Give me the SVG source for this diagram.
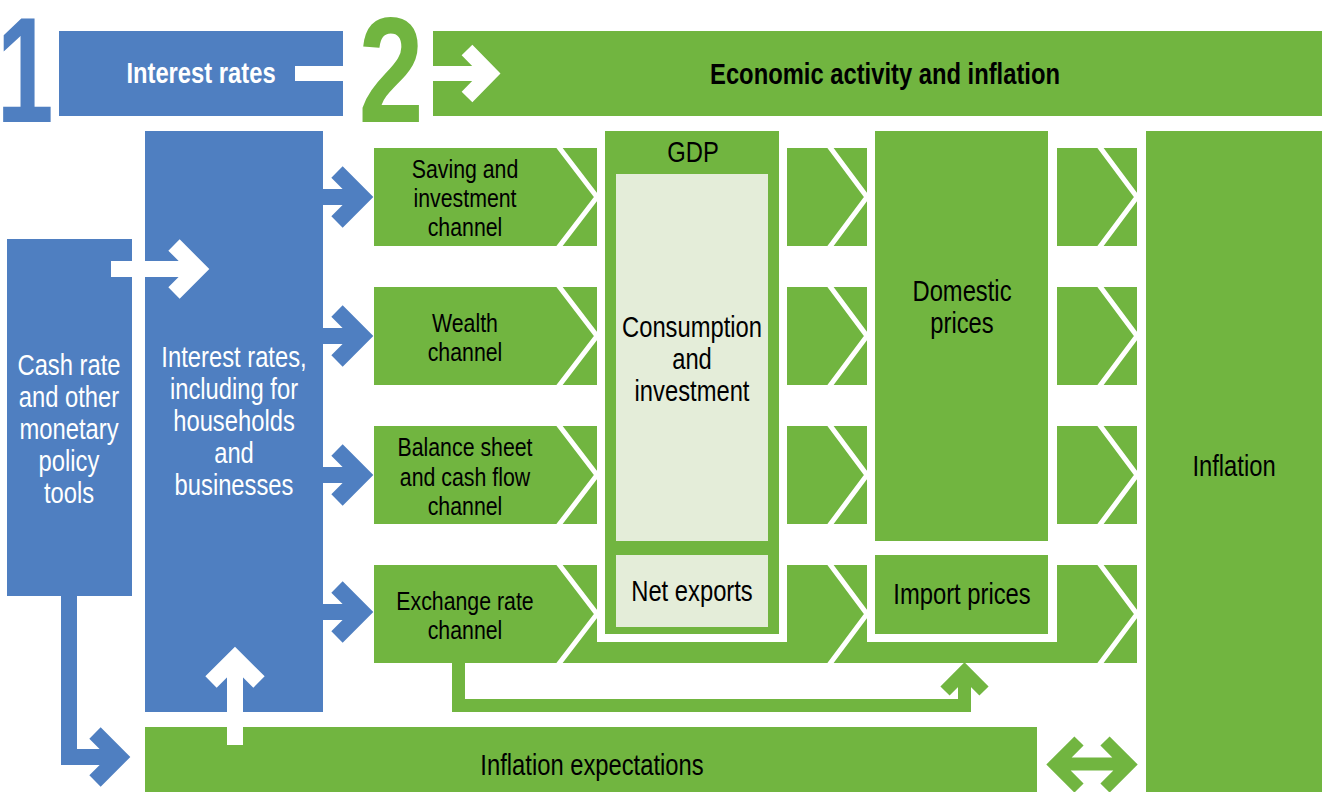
<svg xmlns="http://www.w3.org/2000/svg" width="1325" height="792" viewBox="0 0 1325 792">
<style>
.b{fill:#4F7FC1}
.g{fill:#71B540}
.l{fill:#E4EDD9}
.w{fill:#FFFFFF}
.t{font-family:'Liberation Sans',Arial,sans-serif;font-size:29px;text-anchor:middle}
.c{font-size:26px}
.tw{fill:#FFFFFF}
.tk{fill:#000000}
.bold{font-weight:bold}
.num{font-family:'Liberation Sans',Arial,sans-serif;font-weight:bold;font-size:150px;text-anchor:middle}
.chv{fill:none;stroke:#FFFFFF;stroke-width:5}
.arw{fill:none;stroke-linejoin:miter;stroke-linecap:butt}
</style>
<rect width="1325" height="792" fill="#FFFFFF"/>

<g id="header1">
  <text class="num" transform="translate(25 0) scale(0.68 1)" x="0" y="122" fill="#4F7FC1">1</text>
  <rect class="b" x="59" y="31" width="284" height="85"/>
  <rect class="w" x="295" y="66" width="48" height="15"/>
  <text class="t tw bold" transform="translate(201 0) scale(0.82 1)" x="0" y="83" font-size="28">Interest rates</text>
</g>
<g id="header2">
  <text class="num" transform="translate(391 0) scale(0.78 1)" x="0" y="122" fill="#71B540">2</text>
  <rect class="g" x="433" y="31" width="889" height="85"/>
  <text class="t tk bold" transform="translate(885 0) scale(0.82 1)" x="0" y="84">Economic activity and inflation</text>
</g>

<g id="cash">
  <rect class="b" x="7" y="239" width="125" height="357"/>
  <text class="t tw" transform="translate(69 0) scale(0.82 1)"><tspan x="0" y="375">Cash rate</tspan><tspan x="0" y="407">and other</tspan><tspan x="0" y="439">monetary</tspan><tspan x="0" y="471">policy</tspan><tspan x="0" y="503">tools</tspan></text>
</g>

<g id="interest">
  <rect class="b" x="145" y="131" width="178" height="581"/>
  <text class="t tw" transform="translate(234 0) scale(0.82 1)"><tspan x="0" y="367">Interest rates,</tspan><tspan x="0" y="399">including for</tspan><tspan x="0" y="431">households</tspan><tspan x="0" y="463">and</tspan><tspan x="0" y="495">businesses</tspan></text>
</g>

<g id="saving">
  <rect class="g" x="374" y="148" width="223" height="98"/>
  <polyline class="chv" points="558,146 597,197 558,248"/>
  <text class="t c tk" transform="translate(465 0) scale(0.82 1)"><tspan x="0" y="178">Saving and</tspan><tspan x="0" y="207">investment</tspan><tspan x="0" y="236">channel</tspan></text>
</g>
<g id="wealth">
  <rect class="g" x="374" y="287" width="223" height="98"/>
  <polyline class="chv" points="558,285 597,336 558,387"/>
  <text class="t c tk" transform="translate(465 0) scale(0.82 1)"><tspan x="0" y="332">Wealth</tspan><tspan x="0" y="361">channel</tspan></text>
</g>
<g id="balance">
  <rect class="g" x="374" y="426" width="223" height="98"/>
  <polyline class="chv" points="558,424 597,475 558,526"/>
  <text class="t c tk" transform="translate(465 0) scale(0.82 1)"><tspan x="0" y="456">Balance sheet</tspan><tspan x="0" y="486">and cash flow</tspan><tspan x="0" y="515">channel</tspan></text>
</g>

<g id="exchange">
  <rect class="g" x="374" y="565" width="763" height="98"/>
  <polyline class="chv" points="558,563 597,614 558,665"/>
  <polyline class="chv" points="829,563 867,614 829,665"/>
  <polyline class="chv" points="1099,563 1137,614 1099,665"/>
  <text class="t c tk" transform="translate(465 0) scale(0.82 1)"><tspan x="0" y="610">Exchange rate</tspan><tspan x="0" y="639">channel</tspan></text>
</g>

<g id="gdp">
  <rect class="w" x="597" y="565" width="190" height="77"/>
  <rect class="g" x="605" y="131" width="174" height="503"/>
  <rect class="l" x="616" y="174" width="152" height="367"/>
  <text class="t tk" transform="translate(693 0) scale(0.82 1)" x="0" y="162">GDP</text>
  <text class="t tk" transform="translate(692 0) scale(0.82 1)"><tspan x="0" y="337">Consumption</tspan><tspan x="0" y="369">and</tspan><tspan x="0" y="401">investment</tspan></text>
</g>
<g id="netexports">
  <rect class="l" x="616" y="555" width="152" height="72"/>
  <text class="t tk" transform="translate(692 0) scale(0.82 1)" x="0" y="601">Net exports</text>
</g>

<g id="mid1">
  <rect class="g" x="787" y="148" width="80" height="98"/>
  <polyline class="chv" points="829,146 867,197 829,248"/>
</g>
<g id="mid2">
  <rect class="g" x="787" y="287" width="80" height="98"/>
  <polyline class="chv" points="829,285 867,336 829,387"/>
</g>
<g id="mid3">
  <rect class="g" x="787" y="426" width="80" height="98"/>
  <polyline class="chv" points="829,424 867,475 829,526"/>
</g>

<g id="domestic">
  <rect class="g" x="875" y="131" width="173" height="410"/>
  <text class="t tk" transform="translate(962 0) scale(0.82 1)"><tspan x="0" y="301">Domestic</tspan><tspan x="0" y="333">prices</tspan></text>
</g>
<g id="import">
  <rect class="w" x="867" y="565" width="190" height="77"/>
  <rect class="g" x="875" y="555" width="173" height="79"/>
  <text class="t tk" transform="translate(962 0) scale(0.82 1)" x="0" y="604">Import prices</text>
</g>

<g id="right1">
  <rect class="g" x="1057" y="148" width="80" height="98"/>
  <polyline class="chv" points="1099,146 1137,197 1099,248"/>
</g>
<g id="right2">
  <rect class="g" x="1057" y="287" width="80" height="98"/>
  <polyline class="chv" points="1099,285 1137,336 1099,387"/>
</g>
<g id="right3">
  <rect class="g" x="1057" y="426" width="80" height="98"/>
  <polyline class="chv" points="1099,424 1137,475 1099,526"/>
</g>

<g id="inflation">
  <rect class="g" x="1146" y="131" width="176" height="661"/>
  <text class="t tk" transform="translate(1234 0) scale(0.82 1)" x="0" y="476">Inflation</text>
</g>

<g id="expectations">
  <rect class="g" x="145" y="727" width="892" height="65"/>
  <text class="t tk" transform="translate(592 0) scale(0.82 1)" x="0" y="775">Inflation expectations</text>
</g>

<g id="connectors">
  <path class="arw" stroke="#FFFFFF" stroke-width="15" d="M433 73.5 H486 M467 50 L490 73.5 L467 97"/>
  <path class="arw" stroke="#FFFFFF" stroke-width="16" d="M111 269 H194 M174 245 L198 269 L174 293"/>
  <path class="arw" stroke="#4F7FC1" stroke-width="16" d="M323 197 H358 M337 172 L362 197 L337 222"/>
  <path class="arw" stroke="#4F7FC1" stroke-width="16" d="M323 336 H358 M337 311 L362 336 L337 361"/>
  <path class="arw" stroke="#4F7FC1" stroke-width="16" d="M323 475 H358 M337 450 L362 475 L337 500"/>
  <path class="arw" stroke="#4F7FC1" stroke-width="16" d="M323 612 H358 M337 587 L362 612 L337 637"/>
  <path class="arw" stroke="#4F7FC1" stroke-width="16" d="M69 596 V757 H115 M95 733 L119 757 L95 781"/>
  <path class="arw" stroke="#FFFFFF" stroke-width="16" d="M235 745 V662 M211 682 L235 658 L259 682"/>
  <path class="arw" stroke="#71B540" stroke-width="13" d="M458.5 663 V705.5 H964.5 V676 M945 691 L964.5 671.5 L984 691"/>
  <path class="arw" stroke="#71B540" stroke-width="13" d="M1058 764 H1126 M1079 741 L1055.5 764.5 L1079 788 M1105 741 L1128.5 764.5 L1105 788"/>
</g>
</svg>
